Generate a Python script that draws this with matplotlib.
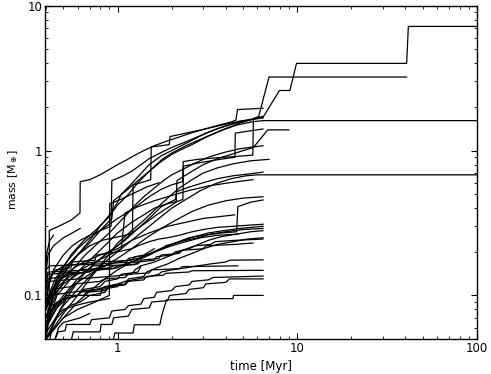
import matplotlib
matplotlib.use("Agg")
import matplotlib.pyplot as plt
from matplotlib.ticker import LogLocator, NullFormatter

# ---- data: (time [Myr], mass [M_earth]) tracks ----
track_A = [(0.40,0.05),(0.417,0.07),(0.417,0.28),(0.47,0.30),(0.55,0.33),(0.618,0.37),(0.62,0.61),(0.70,0.63),(0.80,0.68),(0.90,0.74),(1.0,0.80),(1.12,0.86),(1.25,0.93),(1.4,1.0),(1.6,1.08),(1.87,1.16),(2.2,1.24),(2.6,1.33),(3.0,1.40),(3.6,1.49),(4.3,1.58),(4.55,1.62),(4.6,1.76),(4.65,1.92),(5.5,1.94),(6.45,1.96)]
track_B = [(0.40,0.10),(0.44,0.15),(0.50,0.19),(0.56,0.22),(0.62,0.24),(0.70,0.26),(0.80,0.28),(0.92,0.30),(0.93,0.62),(1.05,0.66),(1.2,0.72),(1.35,0.80),(1.5,0.88),(1.75,0.97),(2.0,1.05),(2.4,1.15),(2.9,1.27),(3.5,1.40),(4.3,1.52),(5.3,1.62),(6.45,1.70)]
track_C = [(0.40,0.08),(0.45,0.12),(0.52,0.16),(0.60,0.19),(0.70,0.22),(0.82,0.24),(0.95,0.25),(1.1,0.26),(1.21,0.27),(1.22,0.58),(1.35,0.60),(1.53,0.63),(1.54,1.06),(1.75,1.08),(1.94,1.10),(1.96,1.25),(2.4,1.32),(3.0,1.40),(3.8,1.50),(4.8,1.60),(6.45,1.68)]
track_L1 = [(0.40,0.055),(0.43,0.09),(0.48,0.13),(0.55,0.17),(0.62,0.20),(0.70,0.24),(0.8,0.30),(0.92,0.37),(1.0,0.44),(1.05,0.50),(1.15,0.56),(1.3,0.66),(1.5,0.80),(1.75,0.92),(2.0,1.0),(2.5,1.15),(3.1,1.32),(3.8,1.45),(4.5,1.55),(5.5,1.64),(6.45,1.70),(7.96,2.6),(9.1,2.6),(9.9,4.0),(40.6,4.0),(41.5,7.2),(100,7.2)]
track_L2 = [(0.40,0.07),(0.45,0.11),(0.52,0.15),(0.6,0.19),(0.7,0.23),(0.82,0.29),(0.93,0.34),(0.95,0.45),(1.1,0.52),(1.3,0.62),(1.5,0.72),(1.75,0.84),(2.0,0.94),(2.2,1.0),(2.6,1.10),(3.2,1.26),(4.0,1.42),(4.8,1.55),(5.6,1.64),(6.1,1.72),(6.96,3.22),(40.6,3.22)]
track_L3 = [(0.40,0.08),(0.46,0.13),(0.55,0.19),(0.65,0.24),(0.75,0.28),(0.88,0.34),(1.0,0.42),(1.15,0.50),(1.3,0.60),(1.5,0.72),(1.75,0.86),(2.0,0.96),(2.4,1.08),(3.0,1.22),(3.8,1.38),(4.6,1.50),(5.6,1.58),(6.45,1.61),(100,1.61)]
track_D = [(0.40,0.09),(0.45,0.13),(0.52,0.17),(0.60,0.21),(0.70,0.25),(0.80,0.28),(0.90,0.31),(1.0,0.34),(1.12,0.37),(1.3,0.42),(1.5,0.48),(1.75,0.54),(2.0,0.58),(2.3,0.61),(2.32,0.84),(2.8,0.87),(3.5,0.89),(4.5,0.91),(5.66,0.93),(5.70,1.67),(6.45,1.72)]
track_F = [(0.40,0.06),(0.46,0.10),(0.55,0.13),(0.65,0.16),(0.75,0.19),(0.88,0.23),(1.0,0.27),(1.2,0.32),(1.4,0.36),(1.6,0.40),(1.9,0.43),(2.2,0.45),(2.31,0.46),(2.33,0.78),(2.8,0.82),(3.5,0.86),(4.5,0.90),(4.52,1.32),(5.5,1.37),(6.45,1.41)]
track_G = [(0.40,0.07),(0.47,0.11),(0.56,0.15),(0.66,0.19),(0.78,0.23),(0.9,0.27),(1.0,0.31),(1.12,0.36),(1.25,0.42),(1.4,0.48),(1.6,0.55),(1.8,0.62),(2.0,0.68),(2.3,0.74),(2.7,0.82),(3.2,0.90),(3.9,0.97),(4.8,1.03),(5.7,1.06),(6.45,1.08)]
track_L4 = [(0.40,0.05),(0.48,0.08),(0.56,0.11),(0.65,0.14),(0.76,0.17),(0.9,0.20),(1.0,0.22),(1.2,0.27),(1.4,0.31),(1.65,0.36),(2.0,0.42),(2.12,0.44),(2.14,0.62),(2.5,0.70),(3.0,0.80),(3.6,0.88),(4.4,0.95),(5.0,1.0),(5.7,1.05),(6.85,1.39),(8.98,1.39)]
track_M1 = [(0.40,0.05),(0.5,0.075),(0.6,0.10),(0.7,0.13),(0.8,0.16),(0.92,0.20),(1.0,0.23),(1.2,0.28),(1.4,0.33),(1.65,0.40),(1.9,0.47),(2.2,0.55),(2.6,0.63),(3.0,0.70),(3.6,0.76),(4.4,0.81),(5.5,0.85),(6.96,0.87)]
track_M2 = [(0.40,0.055),(0.5,0.085),(0.6,0.11),(0.72,0.14),(0.85,0.17),(1.0,0.20),(1.2,0.24),(1.45,0.29),(1.7,0.34),(2.0,0.40),(2.4,0.46),(2.9,0.53),(3.5,0.59),(4.3,0.64),(5.2,0.67),(6.0,0.68),(100,0.68)]
track_M3 = [(0.40,0.07),(0.5,0.10),(0.6,0.13),(0.72,0.16),(0.85,0.19),(0.95,0.21),(1.1,0.24),(1.3,0.29),(1.5,0.34),(1.75,0.41),(2.1,0.46),(2.13,0.52),(2.5,0.56),(3.0,0.60),(3.6,0.64),(4.4,0.67),(5.4,0.69),(6.45,0.71)]
track_M4 = [(0.40,0.08),(0.45,0.11),(0.52,0.13),(0.62,0.15),(0.75,0.17),(0.9,0.19),(1.05,0.21),(1.1,0.37),(1.3,0.41),(1.6,0.45),(2.0,0.49),(2.5,0.53),(3.2,0.57),(4.2,0.60),(5.67,0.63)]
track_M5 = [(0.40,0.06),(0.48,0.09),(0.58,0.12),(0.7,0.14),(0.85,0.16),(1.0,0.18),(1.2,0.21),(1.45,0.25),(1.75,0.29),(2.1,0.33),(2.6,0.38),(3.2,0.42),(4.0,0.45),(5.0,0.47),(6.45,0.48)]
track_M6 = [(0.40,0.05),(0.5,0.07),(0.6,0.09),(0.72,0.11),(0.85,0.13),(1.0,0.15),(1.2,0.17),(1.45,0.19),(1.75,0.21),(2.1,0.23),(2.5,0.25),(3.0,0.26),(3.8,0.27),(4.6,0.275),(4.67,0.41),(5.5,0.44),(6.45,0.456)]
track_M7 = [(0.40,0.05),(0.5,0.07),(0.6,0.08),(0.75,0.09),(0.9,0.10),(0.905,0.43),(1.0,0.45),(1.2,0.50),(1.45,0.56),(1.7,0.60)]
track_M8 = [(0.40,0.09),(0.46,0.12),(0.55,0.15),(0.65,0.17),(0.8,0.19),(1.0,0.21),(1.2,0.24),(1.5,0.27),(1.9,0.30),(2.4,0.32),(3.0,0.34),(3.7,0.35),(4.48,0.36)]
track_P1 = [(0.40,0.09),(0.42,0.13),(0.45,0.15),(0.55,0.155),(0.56,0.17),(0.75,0.175),(0.76,0.19),(1.0,0.20),(1.2,0.21),(1.3,0.22),(1.5,0.235),(1.7,0.245),(1.9,0.25),(2.2,0.26),(2.6,0.275),(3.0,0.285),(3.6,0.295),(4.4,0.30),(5.3,0.305),(6.45,0.31)]
track_P2 = [(0.40,0.07),(0.44,0.10),(0.50,0.12),(0.60,0.14),(0.70,0.15),(0.85,0.16),(1.0,0.17),(1.3,0.18),(1.6,0.20),(1.8,0.215),(2.0,0.225),(2.3,0.24),(2.7,0.255),(3.2,0.27),(3.9,0.28),(4.8,0.29),(6.45,0.30)]
track_P3 = [(0.40,0.11),(0.43,0.14),(0.5,0.16),(0.62,0.165),(0.75,0.17),(0.95,0.172),(1.2,0.175),(1.25,0.185),(1.5,0.19),(1.6,0.20),(1.8,0.21),(1.85,0.22),(2.1,0.23),(2.4,0.24),(2.8,0.25),(3.3,0.265),(4.0,0.275),(5.0,0.285),(6.45,0.29)]
track_P4 = [(0.40,0.06),(0.45,0.08),(0.52,0.095),(0.6,0.10),(0.65,0.11),(0.8,0.115),(0.85,0.125),(1.0,0.13),(1.05,0.14),(1.3,0.145),(1.35,0.16),(1.6,0.17),(1.8,0.18),(2.0,0.19),(2.3,0.205),(2.7,0.22),(3.2,0.24),(3.8,0.255),(4.6,0.265),(5.5,0.275),(6.45,0.28)]
track_P5 = [(0.40,0.08),(0.43,0.11),(0.48,0.13),(0.55,0.14),(0.65,0.145),(0.8,0.15),(1.0,0.155),(1.1,0.165),(1.3,0.175),(1.5,0.19),(1.7,0.205),(2.0,0.22),(2.4,0.235),(2.9,0.25),(3.6,0.26),(4.67,0.265)]
track_P6 = [(0.40,0.05),(0.46,0.07),(0.54,0.085),(0.62,0.09),(0.7,0.10),(0.85,0.105),(0.9,0.115),(1.1,0.12),(1.15,0.13),(1.4,0.135),(1.45,0.145),(1.65,0.155),(1.9,0.165),(2.2,0.18),(2.6,0.195),(3.0,0.21),(3.6,0.225),(4.4,0.235),(5.3,0.245),(6.45,0.25)]
track_P7 = [(0.40,0.11),(0.41,0.13),(0.5,0.135),(0.52,0.14),(0.7,0.145),(0.72,0.15),(0.95,0.153),(1.0,0.16),(1.25,0.163),(1.3,0.17),(1.6,0.175),(1.65,0.185),(2.0,0.19),(2.1,0.20),(2.5,0.21),(2.7,0.22),(3.3,0.225),(3.5,0.235),(4.5,0.24),(6.45,0.245)]
track_P8 = [(0.40,0.12),(0.41,0.14),(0.6,0.145),(0.62,0.15),(0.9,0.155),(0.95,0.16),(1.3,0.165),(1.35,0.175),(1.7,0.18),(1.75,0.19),(2.2,0.195),(2.3,0.205),(3.0,0.21),(3.1,0.22),(4.5,0.225),(5.67,0.23)]
track_Q1 = [(0.40,0.06),(0.44,0.08),(0.5,0.095),(0.6,0.10),(0.62,0.105),(0.8,0.11),(0.85,0.115),(1.0,0.12),(1.1,0.125),(1.3,0.13),(1.5,0.135),(1.7,0.14),(1.75,0.145),(2.0,0.15),(2.4,0.155),(2.8,0.16),(3.3,0.165),(4.0,0.17),(4.2,0.175),(6.45,0.176)]
track_Q2 = [(0.40,0.09),(0.43,0.11),(0.55,0.115),(0.58,0.12),(0.8,0.125),(0.85,0.13),(1.1,0.133),(1.15,0.14),(1.5,0.143),(1.55,0.15),(2.2,0.153),(2.3,0.158),(4.67,0.16)]
track_Q3 = [(0.40,0.07),(0.42,0.085),(0.5,0.09),(0.52,0.10),(0.65,0.10),(0.67,0.105),(0.85,0.108),(0.9,0.115),(1.1,0.118),(1.15,0.125),(1.4,0.128),(1.45,0.135),(1.8,0.138),(1.85,0.142),(2.5,0.145),(2.6,0.148),(6.45,0.149)]
track_Q4 = [(0.449,0.05),(0.468,0.056),(0.51,0.057),(0.52,0.063),(0.70,0.063),(0.717,0.068),(0.9,0.07),(0.93,0.078),(1.1,0.08),(1.15,0.085),(1.35,0.087),(1.4,0.095),(1.6,0.097),(1.65,0.105),(2.0,0.108),(2.1,0.115),(2.5,0.118),(2.6,0.125),(3.2,0.128),(3.4,0.133),(6.45,0.136)]
track_Q5 = [(0.555,0.05),(0.567,0.056),(0.80,0.056),(0.81,0.063),(0.93,0.063),(0.95,0.07),(1.15,0.072),(1.2,0.08),(1.5,0.082),(1.55,0.09),(1.9,0.092),(1.95,0.10),(2.4,0.103),(2.5,0.11),(3.0,0.113),(3.1,0.12),(4.0,0.123),(4.2,0.13),(6.45,0.13)]
track_Q6 = [(0.95,0.05),(0.966,0.055),(1.22,0.055),(1.24,0.0627),(1.72,0.0627),(1.76,0.072),(1.82,0.083),(1.87,0.093),(2.5,0.094),(3.3,0.095),(4.39,0.095),(4.42,0.10),(6.45,0.10)]
track_S1 = [(0.40,0.15),(0.42,0.16),(0.8,0.165),(1.0,0.168),(1.3,0.17)]
track_S2 = [(0.40,0.13),(0.41,0.145),(0.7,0.15),(0.72,0.16),(1.1,0.162),(1.15,0.18),(1.4,0.19),(1.6,0.21)]
track_S3 = [(0.40,0.10),(0.42,0.125),(0.6,0.13),(0.9,0.135),(1.2,0.14),(1.25,0.15),(1.35,0.16)]
track_S4 = [(0.40,0.085),(0.42,0.10),(0.55,0.105),(0.75,0.11),(0.9,0.115),(1.05,0.12)]
track_S5 = [(0.40,0.065),(0.43,0.08),(0.46,0.09),(0.52,0.095),(0.6,0.10),(0.8,0.10),(0.82,0.11),(1.0,0.115)]
track_S6 = [(0.42,0.05),(0.44,0.065),(0.47,0.075),(0.5,0.08),(0.58,0.085),(0.7,0.09),(0.9,0.095)]
track_S7 = [(0.45,0.05),(0.47,0.06),(0.5,0.065),(0.62,0.07),(0.7,0.075)]
track_S8 = [(0.40,0.055),(0.41,0.07),(0.43,0.09),(0.45,0.11),(0.48,0.125)]
track_S9 = [(0.40,0.14),(0.41,0.19),(0.44,0.22),(0.5,0.25),(0.56,0.27),(0.62,0.29)]
track_S10 = [(0.40,0.16),(0.405,0.2),(0.42,0.24),(0.44,0.26)]

tracks = [track_A, track_B, track_C, track_L1, track_L2, track_L3, track_D, track_F,
          track_G, track_L4, track_M1, track_M2, track_M3, track_M4, track_M5, track_M6,
          track_M7, track_M8, track_P1, track_P2, track_P3, track_P4, track_P5, track_P6,
          track_P7, track_P8, track_Q1, track_Q2, track_Q3, track_Q4, track_Q5, track_Q6,
          track_S1, track_S2, track_S3, track_S4, track_S5, track_S6, track_S7, track_S8,
          track_S9, track_S10]

x_ticks = [1, 10, 100]
x_tick_labels = ["1", "10", "100"]
y_ticks = [0.1, 1, 10]
y_tick_labels = ["0.1", "1", "10"]

plt.rcParams['font.family'] = ['DejaVu Sans']
fig = plt.figure(figsize=(4.91, 3.74), dpi=100)
ax = fig.add_axes([0.0917, 0.0936, 0.8798, 0.891])

for tr in tracks:
    t = [p[0] for p in tr]
    m = [p[1] for p in tr]
    ax.plot(t, m, color='black', lw=0.9)

ax.set_xscale('log')
ax.set_yscale('log')
ax.set_xlim(0.395, 100)
ax.set_ylim(0.05, 10)
ax.set_xticks(x_ticks)
ax.set_xticklabels(x_tick_labels)
ax.set_yticks(y_ticks)
ax.set_yticklabels(y_tick_labels)
ax.xaxis.set_minor_locator(LogLocator(base=10, subs=range(2, 10)))
ax.yaxis.set_minor_locator(LogLocator(base=10, subs=range(2, 10)))
ax.xaxis.set_minor_formatter(NullFormatter())
ax.yaxis.set_minor_formatter(NullFormatter())
ax.tick_params(which='both', direction='in', top=True, right=True, labelsize=8.5)
ax.tick_params(axis='x', which='major', pad=2.5)
ax.tick_params(axis='y', which='major', pad=2)
ax.tick_params(which='major', length=4, width=0.8)
ax.tick_params(which='minor', length=2, width=0.6)
for s in ax.spines.values():
    s.set_linewidth(1.0)

ax.set_xlabel('time [Myr]', fontsize=8.5, labelpad=3)
ax.set_ylabel(r'mass [M$_\oplus$]', fontsize=7.8)
ax.yaxis.set_label_coords(-0.058, 0.477)

fig.savefig('out.png', dpi=100)
